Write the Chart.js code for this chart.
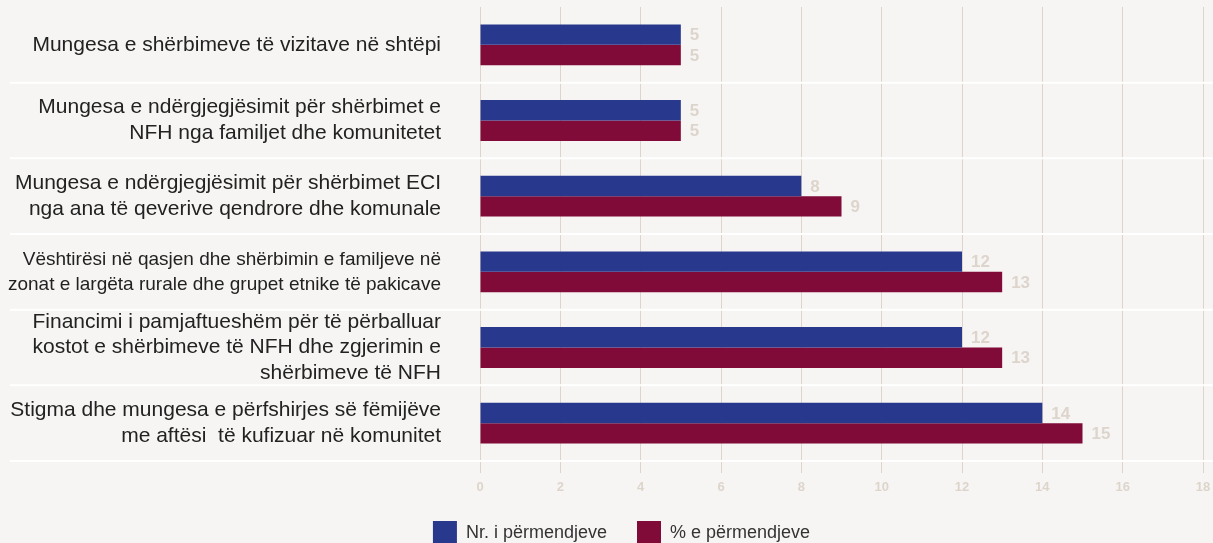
<!DOCTYPE html>
<html>
<head>
  <meta charset="utf-8">
  <title>Sfidat - NFH</title>
  <script src="https://cdn.jsdelivr.net/npm/chart.js"></script>
  <style>
    html, body { margin: 0; padding: 0; background: #f6f5f3; overflow: hidden; }
    #wrap { width: 1213px; height: 555px; position: relative; }
  </style>
</head>
<body>
  <div id="wrap"><canvas id="chart"></canvas></div>
  <script>
    // categories (multi-line labels, as in the source)
    const categories = [
      ["Mungesa e shërbimeve të vizitave në shtëpi"],
      ["Mungesa e ndërgjegjësimit për shërbimet e", "NFH nga familjet dhe komunitetet"],
      ["Mungesa e ndërgjegjësimit për shërbimet ECI", "nga ana të qeverive qendrore dhe komunale"],
      ["Vështirësi në qasjen dhe shërbimin e familjeve në", "zonat e largëta rurale dhe grupet etnike të pakicave"],
      ["Financimi i pamjaftueshëm për të përballuar", "kostot e shërbimeve të NFH dhe zgjerimin e", "shërbimeve të NFH"],
      ["Stigma dhe mungesa e përfshirjes së fëmijëve", "me aftësi  të kufizuar në komunitet"]
    ];
    const countValues = [5, 5, 8, 12, 12, 14];
    const percentValues = [5, 5, 9, 13, 13, 15];
    const seriesNames = ["Nr. i përmendjeve", "% e përmendjeve"];

    const BLUE = "#28398d";
    const MAROON = "#800b38";
    const PALE = "#ddd5cc";
    const FONT = "'Liberation Sans', Arial, sans-serif";

    // white separators between categories, running into the label column
    const separators = {
      id: "separators",
      beforeDatasetsDraw(chart) {
        const y = chart.scales.y;
        const step = y.getPixelForValue(1) - y.getPixelForValue(0);
        const ctx = chart.ctx;
        ctx.save();
        ctx.strokeStyle = "#ffffff";
        ctx.lineWidth = 2;
        for (let i = 0; i < categories.length; i++) {
          const py = y.getPixelForValue(i) + step / 2;
          ctx.beginPath();
          ctx.moveTo(10, py);
          ctx.lineTo(chart.width, py);
          ctx.stroke();
        }
        ctx.restore();
      }
    };

    // value labels at the bar ends
    const valueLabels = {
      id: "valueLabels",
      afterDatasetsDraw(chart) {
        const ctx = chart.ctx;
        ctx.save();
        ctx.font = "bold 17px " + FONT;
        ctx.fillStyle = PALE;
        ctx.textAlign = "left";
        ctx.textBaseline = "middle";
        chart.data.datasets.forEach((ds, di) => {
          chart.getDatasetMeta(di).data.forEach((bar, i) => {
            ctx.fillText(String(ds.data[i]), bar.x + 9, bar.y + 1);
          });
        });
        ctx.restore();
      }
    };

    // legend sits a little right of the canvas centre in the source
    const legendShift = {
      id: "legendShift",
      afterLayout(chart) {
        chart.legend.left += 20;
        chart.legend.right += 20;
      }
    };

    new Chart(document.getElementById("chart"), {
      type: "bar",
      data: {
        labels: categories,
        datasets: [
          { label: seriesNames[0], data: countValues, backgroundColor: BLUE },
          { label: seriesNames[1], data: percentValues, backgroundColor: MAROON }
        ]
      },
      options: {
        indexAxis: "y",
        responsive: true,
        maintainAspectRatio: false,
        animation: false,
        datasets: { bar: { categoryPercentage: 0.54, barPercentage: 1.0 } },
        layout: { padding: { left: 0, right: 10, top: 7, bottom: 0 } },
        scales: {
          x: {
            min: 0,
            max: 18,
            ticks: {
              stepSize: 2,
              color: PALE,
              padding: 7,
              font: { family: FONT, size: 13, weight: "bold" }
            },
            grid: { color: PALE, lineWidth: 1, drawTicks: true, tickLength: 12, tickColor: PALE },
            border: { display: false },
            afterFit(scale) { scale.height = 30; scale.paddingRight = 0; }
          },
          y: {
            ticks: {
              autoSkip: false,
              color: "#222222",
              padding: 39,
              font: (c) => ({ family: FONT, size: c.index === 3 ? 19 : 21, lineHeight: c.index === 3 ? 1.32 : 1.22 })
            },
            grid: { display: false, drawTicks: false },
            border: { display: false },
            afterFit(scale) { scale.width = 480; scale.paddingTop = 0; scale.paddingBottom = 0; }
          }
        },
        plugins: {
          legend: {
            position: "bottom",
            labels: {
              boxWidth: 24,
              boxHeight: 24,
              padding: 30,
              color: "#333333",
              font: { family: FONT, size: 18 }
            }
          },
          tooltip: { enabled: false }
        }
      },
      plugins: [separators, valueLabels, legendShift]
    });
  </script>
</body>
</html>
